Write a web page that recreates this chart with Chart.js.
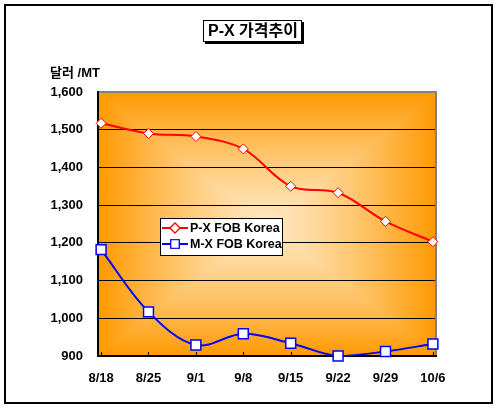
<!DOCTYPE html>
<html>
<head>
<meta charset="utf-8">
<script src="https://cdn.jsdelivr.net/npm/chart.js@4/dist/chart.umd.min.js"></script>
<style>
  html, body { margin: 0; padding: 0; background: #fff; }
  #wrap { width: 498px; height: 413px; }
</style>
</head>
<body>
<div id="wrap"><canvas id="chartPx" width="498" height="413"></canvas></div>
<script>
(function () {
    'use strict';

    /* ── Data ──────────────────────────────────────────────── */
    const DATES = ['8/18', '8/25', '9/1', '9/8', '9/15', '9/22', '9/29', '10/6'];
    const PX_FOB = [1517, 1490, 1482, 1449, 1350, 1333, 1257, 1203];
    const MX_FOB = [1182, 1017, 929, 959, 934, 900, 912, 932];
    const SERIES_NAMES = ['P-X FOB Korea', 'M-X FOB Korea'];
    const Y_MIN = 900, Y_MAX = 1600, Y_STEP = 100;

    const TITLE = 'P-X 가격추이';
    const UNIT = '달러 /MT';

    const FONT = "'Liberation Sans', Arial, 'Noto Sans CJK KR', sans-serif";
    const RED = '#ff0000';
    const BLUE = '#0000ff';

    const toPoints = arr => arr.map((v, i) => ({ x: i, y: v }));

    /* ── Plot background: rectangular "from centre" gradient ── */
    const bgPlugin = {
        id: 'bgPlugin',
        beforeDraw(chart) {
            const { ctx, chartArea: a } = chart;
            const w = Math.round(a.right - a.left), h = Math.round(a.bottom - a.top);
            const off = document.createElement('canvas');
            off.width = w; off.height = h;
            const octx = off.getContext('2d');
            const img = octx.createImageData(w, h);
            const c0 = [255, 231, 192], c1 = [255, 153, 0];
            for (let y = 0; y < h; y++) {
                for (let x = 0; x < w; x++) {
                    const dx = Math.abs(x - w / 2) / (w / 2);
                    const dy = Math.abs(y - h / 2) / (h / 2);
                    let t = Math.min(1, Math.max(dx, dy));
                    t = Math.pow(t, 1.3);
                    const k = (y * w + x) * 4;
                    img.data[k] = c0[0] + (c1[0] - c0[0]) * t;
                    img.data[k + 1] = c0[1] + (c1[1] - c0[1]) * t;
                    img.data[k + 2] = c0[2] + (c1[2] - c0[2]) * t;
                    img.data[k + 3] = 255;
                }
            }
            octx.putImageData(img, 0, 0);
            ctx.save();
            ctx.fillStyle = '#fff';
            ctx.fillRect(0, 0, chart.width, chart.height);
            ctx.drawImage(off, a.left, a.top);
            ctx.restore();
        },
        beforeDatasetsDraw(chart) {
            const { ctx, chartArea: a } = chart;
            ctx.save();
            // grey top/right frame
            ctx.strokeStyle = '#808080';
            ctx.lineWidth = 2;
            ctx.beginPath();
            ctx.moveTo(a.left, a.top);
            ctx.lineTo(a.right, a.top);
            ctx.lineTo(a.right, a.bottom);
            ctx.stroke();
            // black axes
            ctx.strokeStyle = '#000';
            ctx.beginPath();
            ctx.moveTo(a.left, a.top - 1);
            ctx.lineTo(a.left, a.bottom);
            ctx.lineTo(a.right + 1, a.bottom);
            ctx.stroke();
            // small inside ticks on category axis
            const xs = chart.scales.x;
            ctx.lineWidth = 1;
            DATES.forEach((_, i) => {
                const px = Math.round(xs.getPixelForValue(i)) + 0.5;
                ctx.beginPath();
                ctx.moveTo(px, a.bottom - 4);
                ctx.lineTo(px, a.bottom);
                ctx.stroke();
            });
            ctx.restore();
        },
        afterDraw(chart) {
            const { ctx } = chart;
            ctx.save();
            // outer frame
            ctx.strokeStyle = '#000';
            ctx.lineWidth = 2;
            ctx.strokeRect(5, 5, 487, 398);

            // title box with shadow
            ctx.font = 'bold 16px ' + FONT;
            ctx.fillStyle = '#000';
            ctx.fillRect(205, 22, 99, 22);
            ctx.fillStyle = '#fff';
            ctx.fillRect(203, 20, 99, 22);
            ctx.lineWidth = 1;
            ctx.strokeRect(203.5, 20.5, 98, 21);
            ctx.fillStyle = '#000';
            ctx.textAlign = 'center';
            ctx.textBaseline = 'middle';
            ctx.fillText(TITLE, 253, 32);

            // unit label
            ctx.font = 'bold 13px ' + FONT;
            ctx.textAlign = 'left';
            ctx.fillText(UNIT, 50, 73);

            // legend box
            const lx = 160, ly = 218, lw = 123, lh = 38;
            ctx.fillStyle = '#fff';
            ctx.fillRect(lx, ly, lw, lh);
            ctx.strokeStyle = '#000';
            ctx.lineWidth = 1;
            ctx.strokeRect(lx + 0.5, ly + 0.5, lw - 1, lh - 1);
            const rows = [
                { name: SERIES_NAMES[0], color: RED, style: 'rectRot', r: 5, y: ly + 10 },
                { name: SERIES_NAMES[1], color: BLUE, style: 'rect', r: 6, y: ly + 26 }
            ];
            ctx.font = 'bold 12.5px ' + FONT;
            ctx.textBaseline = 'middle';
            rows.forEach(row => {
                ctx.strokeStyle = row.color;
                ctx.lineWidth = 2;
                ctx.beginPath();
                ctx.moveTo(lx + 2, row.y);
                ctx.lineTo(lx + 28, row.y);
                ctx.stroke();
                ctx.fillStyle = '#fff';
                ctx.lineWidth = 1.2;
                Chart.helpers.drawPoint(ctx, { pointStyle: row.style, radius: row.r, borderWidth: 1.2 }, lx + 15, row.y);
                ctx.fill();
                ctx.stroke();
                ctx.fillStyle = '#000';
                ctx.fillText(row.name, lx + 30, row.y + 1);
            });
            ctx.restore();
        }
    };

    /* ── Line chart ────────────────────────────────────────── */
    const ctx = document.getElementById('chartPx').getContext('2d');
    new Chart(ctx, {
        type: 'line',
        data: {
            datasets: [{
                label: SERIES_NAMES[0],
                data: toPoints(PX_FOB),
                borderColor: RED,
                borderWidth: 2,
                backgroundColor: '#fff',
                pointStyle: 'rectRot',
                pointRadius: 5,
                pointBorderWidth: 1,
                pointBorderColor: RED,
                pointBackgroundColor: '#fff',
                tension: 0.35,
                clip: false,
            }, {
                label: SERIES_NAMES[1],
                data: toPoints(MX_FOB),
                borderColor: BLUE,
                borderWidth: 2,
                backgroundColor: '#fff',
                pointStyle: 'rect',
                pointRadius: 7,
                pointBorderWidth: 1.5,
                pointBorderColor: BLUE,
                pointBackgroundColor: '#fff',
                tension: 0.35,
                clip: false,
            }]
        },
        options: {
            responsive: false,
            animation: false,
            events: [],
            layout: { padding: { left: 0, top: 92, right: 62, bottom: 0 } },
            plugins: {
                legend: { display: false },
                title: { display: false },
                tooltip: { enabled: false }
            },
            scales: {
                x: {
                    type: 'linear',
                    min: -0.065,
                    max: 7.065,
                    afterBuildTicks(scale) {
                        scale.ticks = DATES.map((_, i) => ({ value: i }));
                    },
                    afterFit(scale) { scale.height = 57; },
                    grid: { display: false, drawTicks: false },
                    border: { display: false },
                    ticks: {
                        color: '#000',
                        font: { family: FONT, size: 13, weight: 'bold' },
                        padding: 15,
                        autoSkip: false,
                        maxRotation: 0,
                        callback: v => DATES[v]
                    }
                },
                y: {
                    min: Y_MIN,
                    max: Y_MAX,
                    afterFit(scale) { scale.width = 98; },
                    grid: {
                        drawTicks: false,
                        color: c => (c.tick && (c.tick.value === Y_MAX || c.tick.value === Y_MIN)) ? 'rgba(0,0,0,0)' : '#000',
                        lineWidth: 1
                    },
                    border: { display: false },
                    ticks: {
                        stepSize: Y_STEP,
                        color: '#000',
                        font: { family: FONT, size: 13, weight: 'bold' },
                        padding: 15,
                        callback: v => v.toLocaleString('en-US')
                    }
                }
            }
        },
        plugins: [bgPlugin]
    });
})();
</script>
</body>
</html>
